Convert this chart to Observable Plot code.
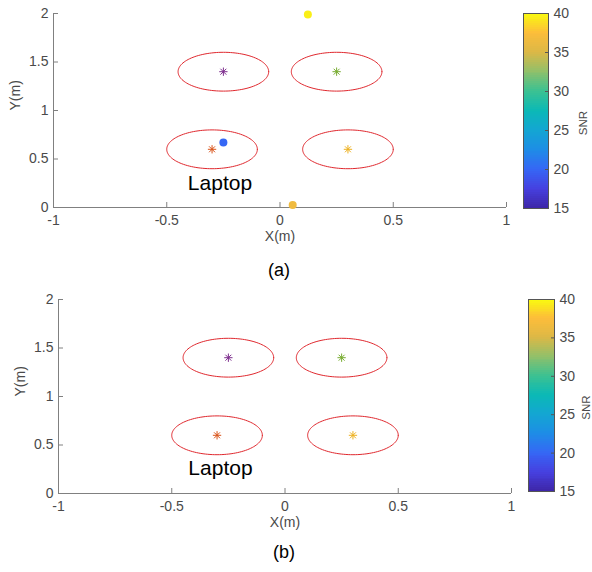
<!DOCTYPE html>
<html><head><meta charset="utf-8">
<script src="https://cdn.jsdelivr.net/npm/d3@7"></script>
<script src="https://cdn.jsdelivr.net/npm/@observablehq/plot@0.6"></script>
<style>
body{margin:0;background:#fff;}
#c{position:relative;width:592px;height:572px;font-family:"Liberation Sans",Arial,sans-serif;overflow:hidden;}
#c > *{position:absolute;}
.cap{font-size:18px;color:#000;transform:translate(-50%,-50%);white-space:nowrap;}
</style></head><body><div id="c"></div>
<script>
// ---- data ----
const targetX = [-0.25, 0.25, -0.3, 0.3];
const targetY = [1.4, 1.4, 0.6, 0.6];
const targetColors = ["#7E2F8E", "#77AC30", "#D95319", "#EDB120"];
const zoneRadius = 0.2;
const estX = [0.123, -0.25, 0.056];
const estY = [1.99, 0.67, 0.025];
const estSNR = [39.5, 20, 36.5];
const xTicks = [-1, -0.5, 0, 0.5, 1];
const yTicks = [0, 0.5, 1, 1.5, 2];
const snrTicks = [15, 20, 25, 30, 35, 40];
const laptopA = [-0.265, 0.25];
const laptopB = [-0.285, 0.255];
const panelCaptions = ["(a)", "(b)"];

// parula-like colormap stops
const parulaStops = ["#3e26a8","#4640e0","#3567f5","#1e8de6","#13a6d2","#0bb9b6","#3bc192","#90c06a","#dcb846","#fdbd3a","#f9fb0e"];
const parula = d3.piecewise(d3.interpolateRgb, parulaStops);
const colorOpts = {type: "linear", domain: [15, 40], interpolate: parula};

const c = document.getElementById("c");
const fmt = d => String(d);
const axisGray = "#808080";
const textGray = "#4a4a4a";
const font = {fontFamily: "Liberation Sans, Arial, sans-serif", fontSize: "14px", background: "transparent", overflow: "visible"};

function zonePoints() {
  const pts = [];
  targetX.forEach((cx, i) => {
    for (let a = 0; a <= 360; a += 3) {
      const t = a * Math.PI / 180;
      pts.push({id: i, x: cx + zoneRadius * Math.cos(t), y: targetY[i] + zoneRadius * Math.sin(t)});
    }
  });
  return pts;
}

function mainPlot(mLeft, mRight, withEst, laptop) {
  const width = 520, height = 250, mTop = 13, mBottom = 43;
  const fw = width - mLeft - mRight, fh = height - mTop - mBottom;
  const marks = [
    Plot.ruleY([0], {stroke: axisGray}),
    Plot.ruleX([-1], {stroke: axisGray}),
    Plot.ruleX(xTicks, {x: d => d, insetTop: fh - 5, stroke: axisGray}),
    Plot.ruleY(yTicks, {y: d => d, insetRight: fw - 5, stroke: axisGray}),
    Plot.axisX({ticks: xTicks, tickFormat: fmt, tickSize: 0, tickPadding: 8, fill: textGray, label: null}),
    Plot.axisY({ticks: yTicks, tickFormat: fmt, tickSize: 0, tickPadding: 5, fill: textGray, label: null}),
    Plot.line(zonePoints(), {x: "x", y: "y", z: "id", stroke: "#e0282e", strokeWidth: 1}),
  ];
  targetX.forEach((x, i) => {
    marks.push(Plot.dot([i], {x: j => targetX[j], y: j => targetY[j], symbol: "plus", r: 2.8, stroke: targetColors[i], strokeWidth: 1}));
    marks.push(Plot.dot([i], {x: j => targetX[j], y: j => targetY[j], symbol: "times", r: 2.8, stroke: targetColors[i], strokeWidth: 1}));
  });
  if (withEst) {
    marks.push(Plot.dot(estX.map((x, i) => i), {x: i => estX[i], y: i => estY[i], fill: i => estSNR[i], r: 4}));
  }
  marks.push(Plot.text(["Laptop"], {x: () => laptop[0], y: () => laptop[1], text: d => d, fontSize: 21, fill: "#000"}));
  marks.push(Plot.text(["X(m)"], {frameAnchor: "bottom", dy: 33, text: d => d, fill: textGray, fontSize: 14}));
  marks.push(Plot.text(["Y(m)"], {frameAnchor: "left", dx: -38, rotate: -90, text: d => d, fill: textGray, fontSize: 14}));
  return Plot.plot({
    width, height,
    marginLeft: mLeft, marginRight: mRight, marginTop: mTop, marginBottom: mBottom,
    x: {domain: [-1, 1]}, y: {domain: [0, 2]},
    color: colorOpts,
    style: font,
    marks
  });
}

function colorbar(w, barW, mBottom, labelDx) {
  return Plot.plot({
    width: w, height: 250,
    marginLeft: 8, marginRight: w - 8 - barW, marginTop: 13, marginBottom: mBottom,
    y: {domain: [15, 40]},
    color: colorOpts,
    style: font,
    marks: [
      Plot.rect(d3.range(15, 40, 0.25), {y1: d => d, y2: d => d + 0.25, fill: d => d + 0.125, shapeRendering: "crispEdges"}),
      Plot.frame({stroke: "#555"}),
      Plot.ruleY(snrTicks, {y: d => d, insetLeft: barW - 3, stroke: "#555"}),
      Plot.axisY({anchor: "right", ticks: snrTicks, tickFormat: fmt, tickSize: 0, tickPadding: 5, fill: textGray, label: null}),
      Plot.text(["SNR"], {frameAnchor: "right", dx: labelDx, rotate: -90, text: d => d, fill: textGray, fontSize: 11.5})
    ]
  });
}

const a = mainPlot(53, 14, true, laptopA);
a.style.left = "0px"; a.style.top = "0px";
c.appendChild(a);
const ca = colorbar(77, 25, 42, 35);
ca.style.left = "515px"; ca.style.top = "0px";
c.appendChild(ca);

const b = mainPlot(58, 9, false, laptopB);
b.style.left = "0px"; b.style.top = "286px";
c.appendChild(b);
const cb = colorbar(72, 26, 45, 32);
cb.style.left = "520px"; cb.style.top = "286px";
c.appendChild(cb);

[[279, 270], [284, 552]].forEach((p, i) => {
  const d = document.createElement("div");
  d.className = "cap";
  d.textContent = panelCaptions[i];
  d.style.left = p[0] + "px"; d.style.top = p[1] + "px";
  c.appendChild(d);
});
</script></body></html>
